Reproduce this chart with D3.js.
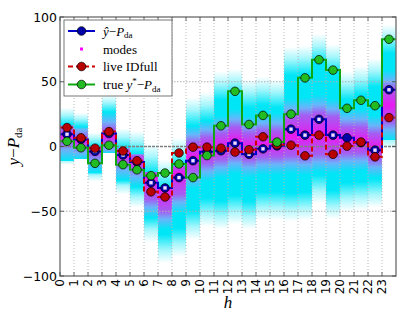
<!DOCTYPE html>
<html>
<head>
<meta charset="utf-8">
<script src="https://d3js.org/d3.v7.min.js"></script>
<style>
  body { margin: 0; background: #fff; }
  svg { display: block; }
</style>
</head>
<body>
<svg id="chart" width="407" height="319"></svg>
<script>
// hours of the day (bins)
var hours = d3.range(24);
var yTicks = [-100, -50, 0, 50, 100];

// series, one value per hour
var yhat  = [9.5, 5.5, -3.8, 10, -6.6, -12, -28, -32, -24, -11, -4, -3.3, 2.6, -6, -1.8, 0.5, 13.4, 8.8, 21, 8.8, 6.7, 3, -2.8, 43.8];
var modes = [9.5, 5.5, -3.8, 10, -6.6, -12, -28, -32, -24, -11, -4, -3.3, 2.6, -6, -1.8, 0.5, 13.4, 8.8, 21, 8.8, 0.3, 3, -2.8, 43.8];
var live  = [14.6, 6.7, -1.3, 11.5, -3.5, -11, -35, -39, -5, -0.5, -0.5, -1.3, -4.3, -2.5, 7.5, 1.3, 1, -7.2, 8.8, -6, 0.3, 3.4, -8, 22.3];
var truth = [4, -1, -13, 1, -14, -18, -22.5, -20.5, -13.5, -24, -7, 16, 42.6, 17, 24, 3.4, 25, 53, 67, 59, 29.5, 35.7, 31.5, 82.8];

// predictive density per hour: extent, magenta peak and its half width
var densLo    = [-14, -10, -27, -5, -37, -47, -74, -90, -85, -72, -62, -64, -60, -64, -57, -57, -58, -57, -44, -56, -50, -49, -47, -2];
var densHi    = [30, 26, 11, 40, 14, 12, 2, -10, 7, 38, 42, 58, 60, 52, 54, 52, 77, 78, 87, 79, 58, 62, 68, 94];
var densPeak  = [8, 4, -3, 8, -7, -12, -24, -33, -20, -8, -3, 0, 4, 0, 2, 2, 8, 8, 10, 8, 5, 5, 0, 32];
var densWidth = [5, 3, 3, 5, 5, 5, 17, 17, 17, 11, 10, 10, 11, 10, 10, 10, 15, 16, 16, 15, 10, 10, 10, 13];

var svg = d3.select('#chart');
var mL = 60, mR = 396, mT = 17, mB = 276;

var x = d3.scaleLinear().domain([0, 24]).range([mL, mR]);
var y = d3.scaleLinear().domain([-100, 100]).range([mB, mT]);

var defs = svg.append('defs');
defs.append('clipPath').attr('id', 'plotclip')
  .append('rect').attr('x', mL).attr('y', mT)
  .attr('width', mR - mL).attr('height', mB - mT);

// density columns
var cyan = '#00e6f6', mag = '#e81af0', vio = '#a45ef2', peri = '#6ab4fb';
hours.forEach(function(h) {
  var lo = densLo[h], hi = densHi[h], pk = densPeak[h], w = densWidth[h];
  var span = hi - lo;
  var f = Math.min(22, span * 0.3);
  var off = function(v) { return Math.max(0, Math.min(1, (hi - v) / span)); };
  var g = defs.append('linearGradient').attr('id', 'dens' + h)
    .attr('gradientUnits', 'userSpaceOnUse')
    .attr('x1', 0).attr('x2', 0).attr('y1', y(hi)).attr('y2', y(lo));
  var stops = [
    [hi, cyan, 0],
    [hi - f * 0.45, cyan, 0.35],
    [hi - f, cyan, 1],
    [pk + w + 14, cyan, 1],
    [pk + w + 6, peri, 1],
    [pk + w, vio, 1],
    [pk, mag, 1],
    [pk - w, vio, 1],
    [pk - w - 6, peri, 1],
    [pk - w - 14, cyan, 1],
    [lo + f, cyan, 1],
    [lo + f * 0.45, cyan, 0.35],
    [lo, cyan, 0]
  ];
  stops.forEach(function(s) {
    g.append('stop').attr('offset', off(s[0]))
      .attr('stop-color', s[1]).attr('stop-opacity', s[2]);
  });
});

var plot = svg.append('g').attr('clip-path', 'url(#plotclip)');

plot.selectAll('rect.dens').data(hours).enter().append('rect')
  .attr('class', 'dens')
  .attr('x', function(h) { return x(h); })
  .attr('width', function(h) { return x(h + 1) - x(h); })
  .attr('y', function(h) { return y(densHi[h]); })
  .attr('height', function(h) { return y(densLo[h]) - y(densHi[h]); })
  .attr('fill', function(h) { return 'url(#dens' + h + ')'; });

// grid
plot.selectAll('line.vgrid').data(hours.slice(1)).enter().append('line')
  .attr('x1', function(h) { return x(h); }).attr('x2', function(h) { return x(h); })
  .attr('y1', mT).attr('y2', mB)
  .attr('stroke', '#b8b8b8').attr('stroke-width', 1).attr('stroke-dasharray', '1,2');
plot.selectAll('line.hgrid').data([-50, 50]).enter().append('line')
  .attr('x1', mL).attr('x2', mR)
  .attr('y1', function(d) { return y(d); }).attr('y2', function(d) { return y(d); })
  .attr('stroke', '#b0b0b0').attr('stroke-width', 1.2).attr('stroke-dasharray', '1.5,1.5');
plot.append('line')
  .attr('x1', mL).attr('x2', mR).attr('y1', y(0)).attr('y2', y(0))
  .attr('stroke', '#808080').attr('stroke-width', 1.3).attr('stroke-dasharray', '3,1');

// step lines
function stepPts(vals) {
  return vals.flatMap(function(v, i) { return [[i, v], [i + 1, v]]; });
}
var line = d3.line().x(function(d) { return x(d[0]); }).y(function(d) { return y(d[1]); });

plot.append('path').attr('d', line(stepPts(yhat)))
  .attr('fill', 'none').attr('stroke', '#0000c8').attr('stroke-width', 2);
plot.selectAll('circle.yhat').data(yhat).enter().append('circle')
  .attr('cx', function(d, i) { return x(i + 0.5); }).attr('cy', function(d) { return y(d); })
  .attr('r', 4.3).attr('fill', '#0000a8').attr('stroke', '#000').attr('stroke-width', 0.7);

plot.selectAll('rect.mode').data(modes).enter().append('rect')
  .attr('x', function(d, i) { return x(i + 0.5) - 1.7; }).attr('y', function(d) { return y(d) - 1.7; })
  .attr('width', 3.4).attr('height', 3.4)
  .attr('fill', '#f4dcff');

plot.append('path').attr('d', line(stepPts(live)))
  .attr('fill', 'none').attr('stroke', '#d00000').attr('stroke-width', 2)
  .attr('stroke-dasharray', '5,3');
plot.selectAll('circle.live').data(live).enter().append('circle')
  .attr('cx', function(d, i) { return x(i + 0.5); }).attr('cy', function(d) { return y(d); })
  .attr('r', 4.3).attr('fill', '#b80000').attr('stroke', '#000').attr('stroke-width', 0.7);

plot.append('path').attr('d', line(stepPts(truth)))
  .attr('fill', 'none').attr('stroke', '#10a810').attr('stroke-width', 2);
plot.selectAll('circle.truth').data(truth).enter().append('circle')
  .attr('cx', function(d, i) { return x(i + 0.5); }).attr('cy', function(d) { return y(d); })
  .attr('r', 4.3).attr('fill', '#22bb22').attr('stroke', '#000').attr('stroke-width', 0.7);

// frame and ticks
svg.append('rect').attr('x', mL).attr('y', mT)
  .attr('width', mR - mL).attr('height', mB - mT)
  .attr('fill', 'none').attr('stroke', '#6a6a6a').attr('stroke-width', 1.3);

hours.forEach(function(h) {
  svg.append('line').attr('x1', x(h)).attr('x2', x(h)).attr('y1', mB).attr('y2', mB - 4)
    .attr('stroke', '#444').attr('stroke-width', 0.8);
  svg.append('line').attr('x1', x(h)).attr('x2', x(h)).attr('y1', mT).attr('y2', mT + 4)
    .attr('stroke', '#444').attr('stroke-width', 0.8);
});
yTicks.forEach(function(t) {
  svg.append('line').attr('x1', mL).attr('x2', mL + 4).attr('y1', y(t)).attr('y2', y(t))
    .attr('stroke', '#444').attr('stroke-width', 0.8);
  svg.append('line').attr('x1', mR).attr('x2', mR - 4).attr('y1', y(t)).attr('y2', y(t))
    .attr('stroke', '#444').attr('stroke-width', 0.8);
});

// tick labels
svg.selectAll('text.xt').data(hours).enter().append('text')
  .attr('transform', function(h) { return 'translate(' + (x(h) + 4.3) + ',' + (mB + 3) + ') rotate(-90)'; })
  .attr('text-anchor', 'end')
  .attr('font-family', 'DejaVu Sans').attr('font-size', 12).attr('fill', '#000')
  .text(function(h) { return h; });

svg.selectAll('text.yt').data(yTicks).enter().append('text')
  .attr('x', mL - 3).attr('y', function(t) { return y(t) + 4.5; })
  .attr('text-anchor', 'end')
  .attr('font-family', 'DejaVu Sans').attr('font-size', 12.5).attr('fill', '#000')
  .text(function(t) { return t < 0 ? '\u2212' + Math.abs(t) : t; });

// axis labels
svg.append('text').attr('x', (mL + mR) / 2).attr('y', 308)
  .attr('text-anchor', 'middle')
  .attr('font-family', 'Liberation Serif').attr('font-style', 'italic').attr('font-size', 17)
  .text('h');

var yl = svg.append('text').attr('transform', 'translate(19,' + ((mT + mB) / 2) + ') rotate(-90)')
  .attr('text-anchor', 'middle')
  .attr('font-family', 'Liberation Serif').attr('font-size', 17);
yl.append('tspan').attr('font-style', 'italic').text('y');
yl.append('tspan').text('\u2212');
yl.append('tspan').attr('font-style', 'italic').text('P');
yl.append('tspan').attr('font-size', 11).attr('dy', 3).text('da');

// legend
var lg = svg.append('g');
lg.append('rect').attr('x', 64).attr('y', 20).attr('width', 108).attr('height', 76)
  .attr('fill', '#fff').attr('stroke', '#555').attr('stroke-width', 0.8);

var items = [
  { y: 31, stroke: '#0000c8', dash: null, fill: '#0000a8' },
  { y: 49, stroke: null, dash: null, fill: null },
  { y: 66.5, stroke: '#d00000', dash: '5,3', fill: '#b80000' },
  { y: 84.5, stroke: '#10a810', dash: null, fill: '#22bb22' }
];
items.forEach(function(it) {
  if (it.stroke) {
    lg.append('line').attr('x1', 68).attr('x2', 95).attr('y1', it.y).attr('y2', it.y)
      .attr('stroke', it.stroke).attr('stroke-width', 2).attr('stroke-dasharray', it.dash);
    lg.append('circle').attr('cx', 81.5).attr('cy', it.y).attr('r', 4.3)
      .attr('fill', it.fill).attr('stroke', '#000').attr('stroke-width', 0.7);
  } else {
    lg.append('rect').attr('x', 80).attr('y', it.y - 1.5).attr('width', 3).attr('height', 3)
      .attr('fill', '#ff00ff');
  }
});

function legendText(yy) {
  return lg.append('text').attr('x', 103).attr('y', yy + 4.5)
    .attr('font-family', 'Liberation Serif').attr('font-size', 13).attr('fill', '#000');
}
var t1 = legendText(31);
t1.append('tspan').attr('font-style', 'italic').text('\u0177');
t1.append('tspan').text('\u2212');
t1.append('tspan').attr('font-style', 'italic').text('P');
t1.append('tspan').attr('font-size', 9).attr('dy', 2.5).text('da');

legendText(49).text('modes');
legendText(66.5).text('live IDfull');

var t4 = legendText(84.5);
t4.append('tspan').text('true ');
t4.append('tspan').attr('font-style', 'italic').text('y');
t4.append('tspan').attr('font-size', 9).attr('dy', -5).text('*');
t4.append('tspan').attr('dy', 5).text('\u2212');
t4.append('tspan').attr('font-style', 'italic').text('P');
t4.append('tspan').attr('font-size', 9).attr('dy', 2.5).text('da');
</script>
</body>
</html>
